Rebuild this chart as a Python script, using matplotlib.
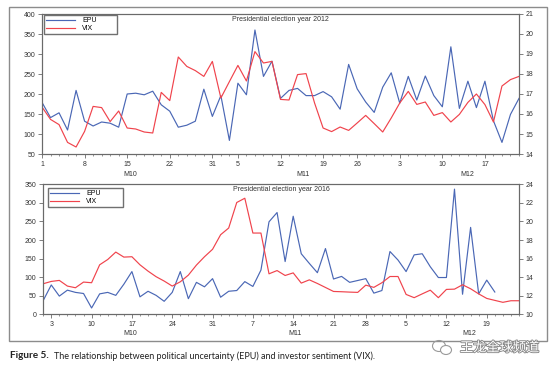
import numpy as np
import pandas as pd
import matplotlib
matplotlib.use("Agg")
import matplotlib.pyplot as plt
import matplotlib.patheffects as pe
from matplotlib.patches import Rectangle, Ellipse
from matplotlib.transforms import blended_transform_factory

# trading days in each window (market holidays dropped)
days_2012 = pd.bdate_range("2012-10-01", "2012-12-21").drop(
    pd.to_datetime(["2012-10-29", "2012-10-30", "2012-11-22"]))
days_2016 = pd.bdate_range("2016-09-30", "2016-12-23").drop(
    pd.to_datetime(["2016-11-24"]))

epu_2012 = [179, 141, 153, 110, 209, 132, 120, 130, 127, 117,
            200, 202, 198, 207, 173, 157, 117, 122, 132, 212,
            144, 196, 84, 227, 198, 360, 244, 282, 189, 209,
            214, 196, 196, 206, 193, 162, 274, 213, 180, 154,
            217, 253, 177, 244, 185, 245, 196, 168, 318, 164,
            232, 166, 232, 133, 79, 149, 189]
vix_2012 = [16.35, 15.73, 15.47, 14.58, 14.35, 15.13, 16.38, 16.32, 15.62, 16.15,
            15.30, 15.25, 15.10, 15.05, 17.08, 16.67, 18.85, 18.38, 18.17, 17.88,
            18.63, 16.80, 17.62, 18.43, 17.65, 19.12, 18.55, 18.63, 16.73, 16.70,
            17.97, 18.02, 16.55, 15.30, 15.12, 15.35, 15.18, 15.55, 15.93, 15.52,
            15.10, 15.80, 16.55, 17.13, 16.48, 16.60, 15.93, 16.07, 15.60, 15.98,
            16.58, 17.00, 16.47, 15.60, 17.40, 17.72, 17.88]

epu_2016 = [37, 79, 49, 65, 59, 56, 17, 55, 59, 51,
            81, 115, 47, 62, 51, 35, 59, 115, 42, 86,
            74, 96, 46, 62, 64, 88, 75, 119, 249, 274,
            142, 264, 163, 137, 112, 177, 95, 102, 86, 91,
            96, 57, 64, 169, 146, 115, 160, 163, 128, 99,
            99, 337, 54, 234, 55, 92, 60]
vix_2016 = [13.29, 13.54, 13.65, 13.04, 12.86, 13.47, 13.40, 15.33, 15.90, 16.70,
            16.16, 16.20, 15.33, 14.65, 14.05, 13.58, 13.04, 13.50, 14.22, 15.30,
            16.20, 17.00, 18.57, 19.29, 22.04, 22.50, 18.75, 18.75, 14.36, 14.71,
            14.18, 14.46, 13.36, 13.71, 13.32, 12.89, 12.46, 12.43, 12.39, 12.36,
            13.14, 12.90, 13.40, 14.07, 14.07, 12.14, 11.79, 12.20, 12.60, 11.79,
            12.68, 12.71, 13.18, 12.75, 12.20, 11.71, 11.50, 11.29, 11.46, 11.46]

month_labels = ["M10", "M11", "M12"]

BLUE = "#4a67b5"
RED = "#f0434c"
GRID = "#6a6a6a"
TXT = "#333333"
CHART_FONT = "Liberation Sans"


def draw_panel(ax, days, epu, vix, title, left_lim, left_ticks, right_lim, right_ticks,
               month_pos, legend_box, title_y):
    x = np.arange(len(days))
    ax2 = ax.twinx()
    l1, = ax.plot(x[:len(epu)], epu, color=BLUE, lw=0.85)
    l2, = ax2.plot(x[:len(vix)], vix, color=RED, lw=0.85)

    ax.set_xlim(0, len(days) - 1)
    ax.set_ylim(*left_lim)
    ax.set_yticks(left_ticks)
    ax2.set_ylim(*right_lim)
    ax2.set_yticks(right_ticks)

    # a major tick on the first trading day of each week
    wd = days.weekday
    major = [i for i in range(len(days))
             if (i == 0 and wd[i] == 0) or (i > 0 and wd[i] < wd[i - 1])]
    ax.set_xticks(major)
    ax.set_xticklabels([str(days[i].day) for i in major])
    ax.set_xticks(x, minor=True)

    for a in (ax, ax2):
        for s in a.spines.values():
            s.set_color(GRID)
            s.set_linewidth(0.8)
        a.tick_params(which="major", length=3, width=0.6, color=GRID,
                      labelsize=5, labelcolor=TXT, pad=2)
        a.tick_params(which="minor", length=1.6, width=0.5, color=GRID)
        for lab in a.get_xticklabels() + a.get_yticklabels():
            lab.set_fontfamily(CHART_FONT)

    trans = blended_transform_factory(ax.transData, ax.transAxes)
    for pos, lab in zip(month_pos, month_labels):
        ax.text(pos, -0.145, lab, transform=trans, ha="center", va="center",
                fontsize=5, color=TXT, family=CHART_FONT)

    ax.text(0.5, title_y, title, transform=ax.transAxes, ha="center", va="center",
            fontsize=5, color=TXT, family=CHART_FONT)

    leg = ax2.legend([l1, l2], ["EPU", "VIX"], loc="upper left",
                     bbox_to_anchor=legend_box, mode="expand", borderaxespad=0,
                     fontsize=5, handlelength=4.2, handletextpad=1.0,
                     borderpad=0.3, labelspacing=0.15, fancybox=False,
                     framealpha=1, edgecolor="#707070",
                     prop={"family": CHART_FONT, "size": 5})
    leg.get_frame().set_linewidth(1.0)
    return ax2


W, H = 554, 372
fig = plt.figure(figsize=(W / 100, H / 100), dpi=100)
fig.patch.set_facecolor("white")

ax_top = fig.add_axes([42 / W, 1 - 154 / H, 477 / W, 140 / H])
draw_panel(ax_top, days_2012, epu_2012, vix_2012, "Presidential election year 2012",
           (50, 400), range(50, 401, 50), (14, 21), range(14, 22),
           [10.4, 30.6, 49.9], (0.004, 0.857, 0.153, 0.136), 0.964)

ax_bot = fig.add_axes([43.2 / W, 1 - 314.3 / H, 475.8 / W, 130 / H])
draw_panel(ax_bot, days_2016, epu_2016, vix_2016, "Presidential election year 2016",
           (0, 350), range(0, 351, 50), (10, 24), range(10, 25, 2),
           [10.8, 31.2, 52.8], (0.01, 0.825, 0.158, 0.147), 0.962)

# outer frame around both panels
fig.patches.append(Rectangle((9 / W, 1 - 340.7 / H), 538 / W, 333.5 / H,
                             transform=fig.transFigure, fill=False,
                             edgecolor="#8c8c8c", lw=1.0))

# caption
cap_y = 1 - 356 / H
t1 = fig.text(10 / W, cap_y, "Figure 5.", fontsize=7.2, weight="bold",
              family="Lato", color="#222222", va="center")
fig.canvas.draw()
bb = t1.get_window_extent(fig.canvas.get_renderer())
fig.text(bb.x1 / W + 5 / W, cap_y,
         "The relationship between political uncertainty (EPU) and investor sentiment (VIX).",
         fontsize=6.5, family="Lato", color="#222222", va="center")

# watermark
wm_y = 1 - 348 / H
fig.patches.append(Ellipse((439 / W, 1 - 346 / H), 13 / W, 11 / H,
                           transform=fig.transFigure, fill=False,
                           edgecolor="#9a9a9a", lw=0.8))
fig.patches.append(Ellipse((446 / W, 1 - 350 / H), 11 / W, 9 / H,
                           transform=fig.transFigure, facecolor="white",
                           edgecolor="#9a9a9a", lw=0.8))
fig.text(460 / W, wm_y, "王龙全球频道", fontsize=9.5, color="white",
         family=["Noto Sans CJK SC", "DejaVu Sans"], va="center",
         path_effects=[pe.withStroke(linewidth=1.3, foreground="#8a8a8a")])

fig.savefig("out.png", dpi=100)
